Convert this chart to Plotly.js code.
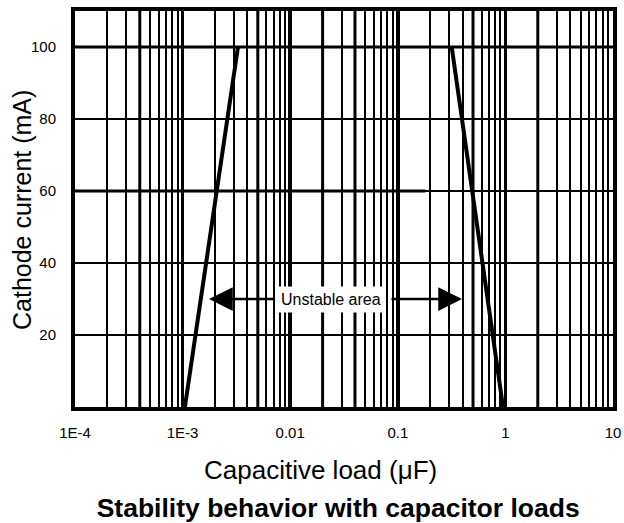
<!DOCTYPE html>
<html><head><meta charset="utf-8">
<script src="https://cdn.plot.ly/plotly-3.0.1.min.js"></script>
<style>html,body{margin:0;padding:0;background:#fff}</style>
</head><body>
<div id="chart" style="width:624px;height:523px"></div>
<script>
// Stability boundary lines (capacitive load in uF, cathode current in mA)
const leftBoundaryX = [1.05e-3, 3.27e-3];
const leftBoundaryY = [0, 100];
const rightBoundaryX = [0.317, 0.95];
const rightBoundaryY = [100, 0];

// Axis ticks
const xTickVals = [1e-4, 1e-3, 0.01, 0.1, 1, 10];
const xTickText = ['1E-4', '1E-3', '0.01', '0.1', '1', '10'];
const yTickVals = [20, 40, 60, 80, 100];
const yTickText = ['20', '40', '60', '80', '100'];

// Minor log gridlines (2..9 per decade)
const minorX = [];
for (const d of [1e-4, 1e-3, 0.01, 0.1, 1]) for (const m of [2,3,4,5,6,7,8,9]) minorX.push(+(m*d).toPrecision(3));

// Grid lines printed heavier in the original
const heavyGridX = [4e-4, 5e-3, 0.02, 0.04, 0.5, 2];
const heavyGridY = [100, 60];
const heavyGridYEnd = [10, 0.18];

// Texts
const xTitle = 'Capacitive load (μF)';
const yTitle = 'Cathode current (mA)';
const chartTitle = 'Stability behavior with capacitor loads';
const labelText = 'Unstable area';
const labelY = 30;
const arrowTipLeft = 1.76e-3;
const arrowTipRight = 0.395;
const labelX = 0.0239;

const font = 'Liberation Sans, Arial, sans-serif';

const traces = [
  {x: leftBoundaryX, y: leftBoundaryY, mode: 'lines', line: {color: '#000', width: 4}, hoverinfo: 'skip'},
  {x: rightBoundaryX, y: rightBoundaryY, mode: 'lines', line: {color: '#000', width: 4}, hoverinfo: 'skip'}
];

const shapes = heavyGridY.map((y, i) => ({
  type: 'line', xref: 'x', yref: 'y', x0: 1e-4, x1: heavyGridYEnd[i], y0: y, y1: y,
  line: {color: '#000', width: 3}, layer: 'below'
})).concat(heavyGridX.map(x => ({
  type: 'line', xref: 'x', yref: 'paper', x0: x, x1: x, y0: 0, y1: 1,
  line: {color: '#000', width: 3}, layer: 'below'
})));

const layout = {
  width: 624, height: 523,
  margin: {l: 75, r: 11, t: 11, b: 116},
  paper_bgcolor: '#fff', plot_bgcolor: '#fff',
  showlegend: false,
  font: {family: font, color: '#000'},
  title: {
    text: '<b>' + chartTitle + '</b>',
    font: {family: font, size: 26.5, color: '#000'},
    x: 0.542, xanchor: 'center', yref: 'container', y: 0.029, yanchor: 'middle'
  },
  xaxis: {
    type: 'log', range: [-4, 1],
    tickmode: 'array', tickvals: xTickVals, ticktext: xTickText,
    tickfont: {size: 15, family: font, color: '#000'},
    ticks: '', ticklabelstandoff: 9,
    showgrid: true, gridcolor: '#000', gridwidth: 3.5,
    minor: {tickmode: 'array', tickvals: minorX, showgrid: true, gridcolor: '#000', gridwidth: 2, ticks: ''},
    showline: true, linecolor: '#000', linewidth: 4, mirror: true,
    zeroline: false,
    automargin: false, fixedrange: true
  },
  yaxis: {
    range: [0, 110],
    tickmode: 'array', tickvals: yTickVals, ticktext: yTickText,
    tickfont: {size: 15, family: font, color: '#000'},
    ticks: '', ticklabelstandoff: 12,
    showgrid: true, gridcolor: '#000', gridwidth: 1.8,
    showline: true, linecolor: '#000', linewidth: 4, mirror: true,
    zeroline: false,
    automargin: false, fixedrange: true
  },
  shapes: shapes,
  annotations: [
    {xref: 'paper', yref: 'paper', x: 0.4554, y: -0.159, xanchor: 'center', yanchor: 'middle',
     text: xTitle, showarrow: false, font: {size: 26, family: font, color: '#000'}},
    {xref: 'paper', yref: 'paper', x: -0.0985, y: 0.4975, xanchor: 'center', yanchor: 'middle',
     text: yTitle, textangle: -90, showarrow: false, font: {size: 25, family: font, color: '#000'}},
    {x: Math.log10(labelX), y: labelY, xref: 'x', yref: 'y', text: labelText, showarrow: false,
     font: {size: 16, family: font, color: '#000'}, bgcolor: '#fff', borderpad: 4},
    {x: Math.log10(arrowTipLeft), y: labelY, xref: 'x', yref: 'y', text: '', showarrow: true,
     ax: 66, ay: 0, arrowhead: 2, arrowsize: 1.9, arrowwidth: 2.5, arrowcolor: '#000'},
    {x: Math.log10(arrowTipRight), y: labelY, xref: 'x', yref: 'y', text: '', showarrow: true,
     ax: -72, ay: 0, arrowhead: 2, arrowsize: 1.9, arrowwidth: 2.5, arrowcolor: '#000'}
  ]
};

Plotly.newPlot('chart', traces, layout, {displayModeBar: false, staticPlot: true});
</script>
</body></html>
